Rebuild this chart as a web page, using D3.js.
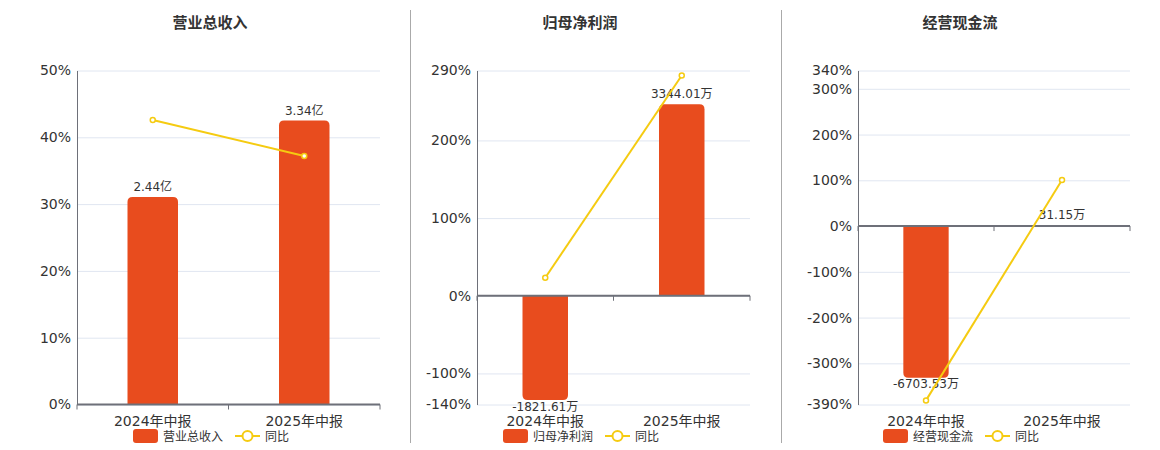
<!DOCTYPE html>
<html>
<head>
<meta charset="utf-8">
<script src="https://cdn.jsdelivr.net/npm/d3@7/dist/d3.min.js"></script>
<style>
  body { margin: 0; background: #fff; }
  svg { display: block; }
  text { font-family: "DejaVu Sans", "Noto Sans CJK SC", sans-serif; fill: #333; }
  .title { font-family: "Noto Sans CJK SC", sans-serif; font-weight: bold; font-size: 15px; }
</style>
</head>
<body>
<svg id="chart" width="1160" height="450"></svg>
<script>
// Data.
const categories = ['2024年中报', '2025年中报'];

const revenueTitle = '营业总收入';
const revenueValues = [2.44, 3.34];
const revenueLabels = ['2.44亿', '3.34亿'];
const revenueYoY = [42.6, 37.2];
const revenueTicks = [0, 10, 20, 30, 40, 50];

const profitTitle = '归母净利润';
const profitValues = [-1821.61, 3344.01];
const profitLabels = ['-1821.61万', '3344.01万'];
const profitYoY = [23.2, 283.6];
const profitTicks = [-140, -100, 0, 100, 200, 290];

const cashTitle = '经营现金流';
const cashValues = [-6703.53, 31.15];
const cashLabels = ['-6703.53万', '31.15万'];
const cashYoY = [-381, 100.46];
const cashTicks = [-390, -300, -200, -100, 0, 100, 200, 300, 340];

const yoyName = '同比';

const barColor = '#e84c1e';
const lineColor = '#f5cb11';
const gridColor = '#e0e6f1';
const axisColor = '#6e7079';

const panels = [
  {title: revenueTitle, values: revenueValues, labels: revenueLabels, yoy: revenueYoY,
   ticks: revenueTicks, left: 77, right: 380, titleX: 210, legendX: 133},
  {title: profitTitle, values: profitValues, labels: profitLabels, yoy: profitYoY,
   ticks: profitTicks, left: 477, right: 750, titleX: 580, legendX: 503},
  {title: cashTitle, values: cashValues, labels: cashLabels, yoy: cashYoY,
   ticks: cashTicks, left: 858, right: 1130, titleX: 960, legendX: 883},
];

const plotTop = 70.5;
const plotBottom = 404.5;
const svg = d3.select('#chart');

// Vertical separators between the three panels.
[410.5, 781.5].forEach((x) => {
  svg.append('line')
      .attr('x1', x).attr('x2', x).attr('y1', 10).attr('y2', 443)
      .attr('stroke', '#aaa').attr('stroke-width', 1);
});

panels.forEach((p) => {
  const g = svg.append('g');

  g.append('text')
      .attr('class', 'title')
      .attr('x', p.titleX).attr('y', 28)
      .attr('text-anchor', 'middle')
      .text(p.title);

  const x = d3.scaleBand().domain(categories).range([p.left, p.right]);
  const y = d3.scaleLinear()
      .domain(d3.extent(p.ticks))
      .range([plotBottom, plotTop]);

  // Hidden bar axis: shares the zero line, largest bar fills 85% of its side.
  const zeroY = y(0);
  const maxAbs = d3.max(p.values, (v) => Math.abs(v));
  const bigVal = p.values.find((v) => Math.abs(v) === maxAbs);
  const sidePx = bigVal >= 0 ? zeroY - plotTop : plotBottom - zeroY;
  const k = 0.85 * sidePx / maxAbs;
  const yBar = d3.scaleLinear()
      .domain([-(plotBottom - zeroY) / k, (zeroY - plotTop) / k])
      .range([plotBottom, plotTop]);

  // Gridlines.
  g.append('g')
      .attr('transform', `translate(${p.left},0)`)
      .call(d3.axisLeft(y).tickValues(p.ticks)
          .tickSize(-(p.right - p.left)).tickFormat(''))
      .call((a) => a.select('.domain').remove())
      .call((a) => a.selectAll('line').attr('stroke', gridColor));

  // Y axis with labels.
  g.append('g')
      .attr('transform', `translate(${p.left},0)`)
      .call(d3.axisLeft(y).tickValues(p.ticks).tickSize(0).tickSizeOuter(0)
          .tickPadding(6).tickFormat((d) => d + '%'))
      .call((a) => a.select('.domain').attr('stroke', axisColor))
      .call((a) => a.selectAll('text')
          .attr('font-size', 14).attr('fill', '#333')
          .style('font-family', '"DejaVu Sans", sans-serif'));

  // Bars with rounded outer end.
  const bw = x.bandwidth() / 3;
  const r = 5;
  const barPath = (v, i) => {
    const x0 = x(categories[i]) + (x.bandwidth() - bw) / 2;
    const x1 = x0 + bw;
    const y0 = yBar(0);
    const y1 = yBar(v);
    const h = Math.abs(y1 - y0);
    const rr = Math.min(r, h, bw / 2);
    const s = v >= 0 ? 1 : -1;
    return `M${x0},${y0}V${y1 + s * rr}Q${x0},${y1} ${x0 + rr},${y1}` +
        `H${x1 - rr}Q${x1},${y1} ${x1},${y1 + s * rr}V${y0}Z`;
  };
  g.selectAll('path.bar')
      .data(p.values)
      .join('path')
      .attr('class', 'bar')
      .attr('d', barPath)
      .attr('fill', barColor);

  g.selectAll('text.blabel')
      .data(p.values)
      .join('text')
      .attr('class', 'blabel')
      .attr('x', (v, i) => x(categories[i]) + x.bandwidth() / 2)
      .attr('y', (v) => v >= 0 ? yBar(v) - 6 : yBar(v) + 10.5)
      .attr('text-anchor', 'middle')
      .attr('font-size', 12)
      .text((v, i) => p.labels[i]);

  // X axis on the zero line, ticks at category boundaries.
  g.append('line')
      .attr('x1', p.left).attr('x2', p.right)
      .attr('y1', zeroY).attr('y2', zeroY)
      .attr('stroke', axisColor).attr('stroke-width', 2);
  const bounds = categories.map((c) => x(c)).concat([p.right]);
  g.selectAll('line.xt')
      .data(bounds)
      .join('line')
      .attr('class', 'xt')
      .attr('x1', (d) => d).attr('x2', (d) => d)
      .attr('y1', zeroY).attr('y2', zeroY + 5)
      .attr('stroke', axisColor);

  g.selectAll('text.xl')
      .data(categories)
      .join('text')
      .attr('class', 'xl')
      .attr('x', (c) => x(c) + x.bandwidth() / 2)
      .attr('y', plotBottom + 21)
      .attr('text-anchor', 'middle')
      .attr('font-size', 14)
      .text((c) => c);

  // YoY line.
  const line = d3.line()
      .x((d, i) => x(categories[i]) + x.bandwidth() / 2)
      .y((d) => y(d));
  g.append('path')
      .datum(p.yoy)
      .attr('d', line)
      .attr('fill', 'none')
      .attr('stroke', lineColor)
      .attr('stroke-width', 2);
  g.selectAll('circle.pt')
      .data(p.yoy)
      .join('circle')
      .attr('class', 'pt')
      .attr('cx', (d, i) => x(categories[i]) + x.bandwidth() / 2)
      .attr('cy', (d) => y(d))
      .attr('r', 2.5)
      .attr('fill', '#fff')
      .attr('stroke', lineColor)
      .attr('stroke-width', 1.5);

  // Legend.
  const lg = g.append('g').attr('transform', `translate(${p.legendX},429)`);
  lg.append('rect')
      .attr('width', 25).attr('height', 14).attr('rx', 3)
      .attr('fill', barColor);
  lg.append('text')
      .attr('x', 30).attr('y', 11.5)
      .attr('font-size', 12)
      .text(p.title);
  const lx = 30 + p.title.length * 12 + 12;
  lg.append('line')
      .attr('x1', lx).attr('x2', lx + 25).attr('y1', 7).attr('y2', 7)
      .attr('stroke', lineColor).attr('stroke-width', 2);
  lg.append('circle')
      .attr('cx', lx + 12.5).attr('cy', 7).attr('r', 5)
      .attr('fill', '#fff').attr('stroke', lineColor).attr('stroke-width', 2);
  lg.append('text')
      .attr('x', lx + 30).attr('y', 11.5)
      .attr('font-size', 12)
      .text(yoyName);
});
</script>
</body>
</html>
